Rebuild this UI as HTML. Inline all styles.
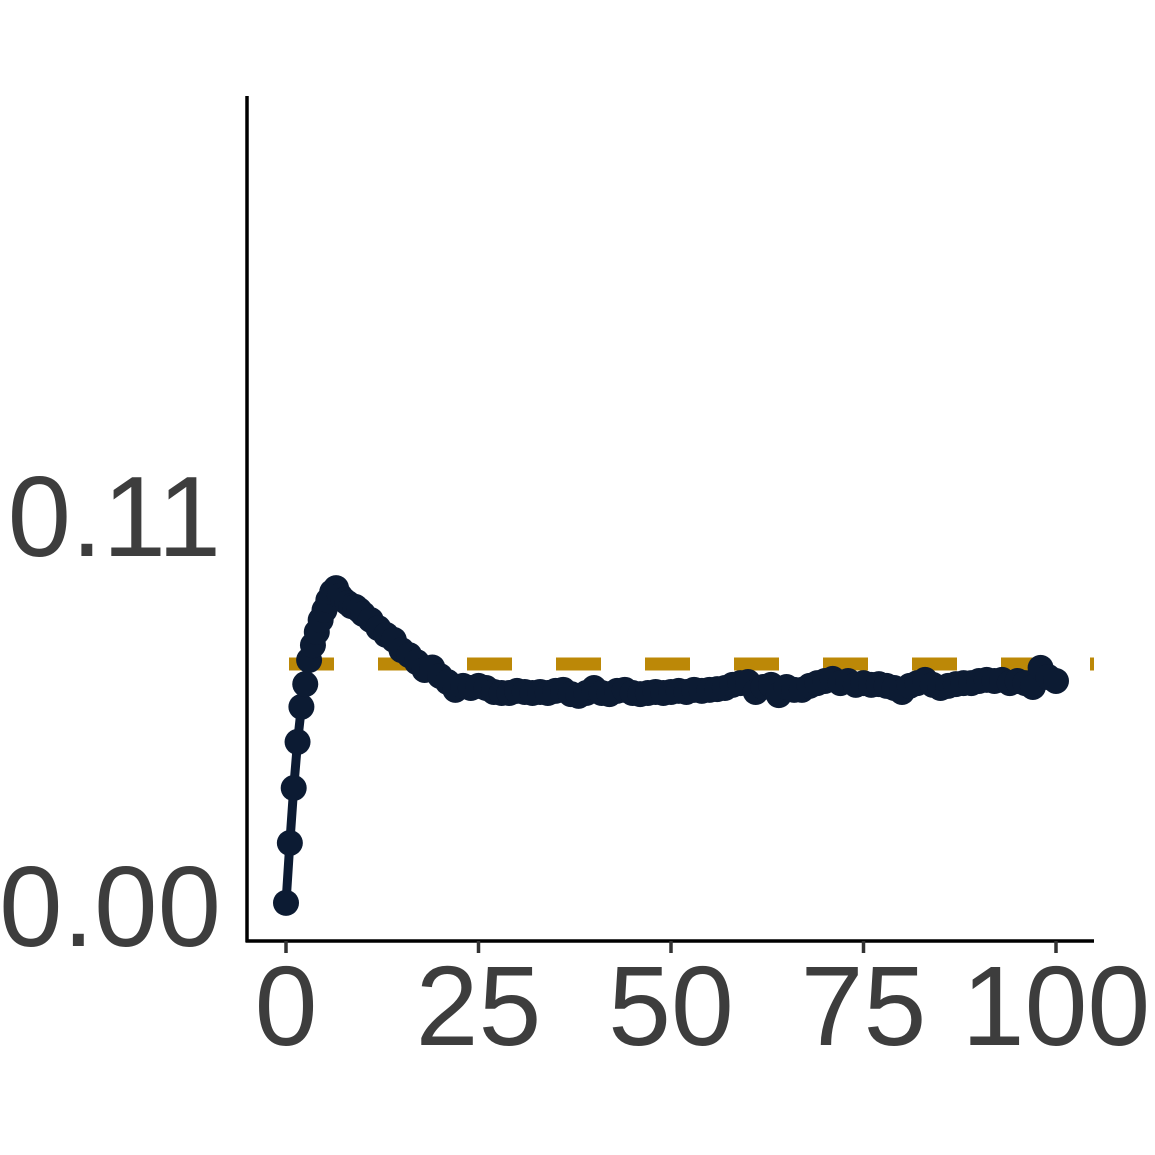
<!DOCTYPE html>
<html><head><meta charset="utf-8"><style>
html,body{margin:0;padding:0;background:#fff;}
svg{display:block;font-family:"Liberation Sans",Arial,sans-serif;}
</style></head><body>
<svg id="chart" width="1155" height="1155" viewBox="0 0 1155 1155" xmlns="http://www.w3.org/2000/svg">
<rect width="1155" height="1155" fill="#fff"/>
<g id="plot"></g>
</svg>
<script>
const xTicks = [0, 25, 50, 75, 100];
const yTicks = [0.00, 0.11];
const yTickLabels = ["0.00", "0.11"];
const refValue = 0.0680;
const xs = [0,0.5,1,1.5,2,2.5,3,3.5,4,4.5,5,5.5,6,6.5,7,7.5,8,8.5,9,9.5,10,
 11,12,13,14,15,16,17,18,19,20,21,22,23,24,25,26,27,28,29,30,31,32,33,34,35,36,37,38,39,40,
 41,42,43,44,45,46,47,48,49,50,51,52,53,54,55,56,57,58,59,60,61,62,63,64,65,66,67,68,69,70,
 71,72,73,74,75,76,77,78,79,80,81,82,83,84,85,86,87,88,89,90,91,92,93,94,95,96,97,98,99,100];
const ys = [0.0006,0.0175,0.0330,0.0460,0.0559,0.0623,0.0691,0.0733,0.0770,0.0804,0.0832,0.0860,0.0883,0.0894,0.0872,0.0860,0.0852,0.0843,0.0841,0.0832,0.0821,
 0.0804,0.0781,0.0762,0.0748,0.0719,0.0705,0.0685,0.0663,0.0670,0.0646,0.0629,0.0607,0.0618,0.0612,0.0618,0.0612,0.0601,0.0598,0.0598,0.0604,0.0601,0.0598,0.0601,0.0598,0.0604,0.0607,0.0595,0.0590,0.0598,0.0612,
 0.0598,0.0595,0.0604,0.0607,0.0598,0.0595,0.0598,0.0601,0.0598,0.0601,0.0604,0.0601,0.0607,0.0604,0.0607,0.0609,0.0612,0.0621,0.0626,0.0629,0.0601,0.0615,0.0621,0.0592,0.0615,0.0607,0.0607,0.0618,0.0626,0.0632,
 0.0638,0.0626,0.0632,0.0621,0.0626,0.0621,0.0623,0.0618,0.0612,0.0601,0.0618,0.0626,0.0635,0.0621,0.0612,0.0618,0.0623,0.0626,0.0626,0.0632,
 0.0635,0.0632,0.0635,0.0626,0.0632,0.0626,0.0615,0.0669,0.0643,0.0632];

const NS = "http://www.w3.org/2000/svg";
const g = document.getElementById('plot');
const X = v => 286 + v * 7.7;
const Y = v => 905 - v * 3545;
function mk(tag, attrs){ const e=document.createElementNS(NS,tag); for(const k in attrs) e.setAttribute(k,attrs[k]); g.appendChild(e); return e; }

let e = mk('line',{x1:289,x2:1094,y1:Y(refValue),y2:Y(refValue),stroke:'#BC8807','stroke-width':13,'stroke-dasharray':'45 44'});



const n = Math.min(xs.length, ys.length);
const pts = xs.slice(0,n).map((x,i)=>X(x)+','+Y(ys[i])).join(' ');
e = mk('polyline',{points:pts,fill:'none',stroke:'#0C1B33','stroke-width':9,'stroke-linejoin':'round'});


for (let i = 0; i < n; i++) {
  const c = mk('circle',{cx:X(xs[i]),cy:Y(ys[i]),r:13,fill:'#0C1B33'});
  
  
}

e = mk('line',{x1:247,x2:247,y1:96,y2:942,stroke:'#000','stroke-width':3.5});


e = mk('line',{x1:245.5,x2:1094,y1:941,y2:941,stroke:'#000','stroke-width':3.5});



xTicks.forEach(t=>{
  const tk = mk('line',{x1:X(t),x2:X(t),y1:941,y2:953,stroke:'#333','stroke-width':3.5});
  
  
  const lb = mk('text',{x:X(t),y:1045,'font-size':113,fill:'#3d3d3d','text-anchor':'middle'});
  lb.textContent = String(t);
  
  
});
yTicks.forEach((t,i)=>{
  const lb = mk('text',{x:221,y:Y(t)+41,'font-size':114,fill:'#3d3d3d','text-anchor':'end'});
  lb.textContent = yTickLabels[i];
  
  
});
</script>
</body></html>
